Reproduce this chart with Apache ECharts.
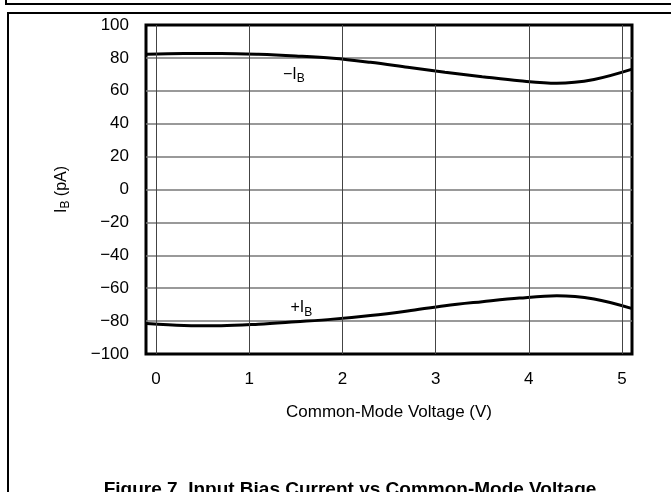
<!DOCTYPE html>
<html lang="en">
<head>
    <meta charset="UTF-8">
    <title>Input Bias Current vs Common-Mode Voltage</title>
    <script src="https://cdn.jsdelivr.net/npm/echarts@6/dist/echarts.min.js"></script>
    <style>
        html, body { margin: 0; padding: 0; background: #fff; }
        #chart { width: 671px; height: 492px; }
    </style>
</head>
<body>
    <div id="chart"></div>
    <script>
        // values
        var voltage = [-0.1, 0.3, 0.7, 1.1, 1.5, 1.9, 2.3, 2.7, 3.1, 3.5, 3.9, 4.3, 4.7, 5.1];
        var minusIb = [82.2, 82.7, 82.7, 82.2, 81.2, 79.8, 77.3, 74.3, 71.3, 68.6, 66.1, 64.6, 66.9, 73];
        var plusIb = [-81.4, -82.6, -82.8, -81.9, -80.4, -78.8, -76.6, -73.8, -70.6, -68.2, -66, -64.6, -66.6, -72.3];
        var xTicks = [0, 1, 2, 3, 4, 5];

        var font = 'Liberation Sans, Arial, sans-serif';
        function pair(xs, ys) {
            var out = [];
            for (var i = 0; i < xs.length; i++) out.push([xs[i], ys[i]]);
            return out;
        }
        function minus(v) {
            return String(v).replace('-', '\u2212');
        }
        var sub = { fontSize: 12, fontFamily: font, color: '#000', padding: [9, 0, 0, 0] };
        var main = { fontFamily: font, fontSize: 16, color: '#000' };

        var chart = echarts.init(document.getElementById('chart'));
        var option = {
            animation: false,
            backgroundColor: '#fff',
            grid: {
                left: 146, right: 39, top: 25, bottom: 138,
                show: true, borderColor: '#000', borderWidth: 3, backgroundColor: 'transparent'
            },
            title: {
                text: 'Figure 7. Input Bias Current vs Common-Mode Voltage',
                left: 345, textAlign: 'center', top: 475,
                textStyle: { fontFamily: font, fontSize: 19, fontWeight: 'bold', color: '#000' }
            },
            graphic: [
                { type: 'polyline', shape: { points: [[6, 0], [6, 4], [671, 4]] }, style: { stroke: '#000', lineWidth: 2, fill: null } },
                { type: 'rect', shape: { x: 8, y: 13, width: 700, height: 520 }, style: { stroke: '#000', lineWidth: 2, fill: null }, z: -1 }
            ],
            xAxis: {
                type: 'value', min: -0.107, max: 5.107,
                name: 'Common-Mode Voltage (V)', nameLocation: 'middle', nameGap: 50,
                nameTextStyle: { fontFamily: font, fontSize: 17, color: '#000' },
                axisLine: { show: false }, axisTick: { show: false },
                splitLine: { show: false },
                axisLabel: { customValues: xTicks, margin: 17, fontFamily: font, fontSize: 17, color: '#000' }
            },
            yAxis: {
                type: 'value', min: -100, max: 100, interval: 20,
                name: '{m|I}{s|B}{m| (pA)}', nameLocation: 'middle', nameGap: 74, nameRotate: 90,
                nameTextStyle: { rich: { m: main, s: sub } },
                axisLine: { show: false }, axisTick: { show: false },
                splitLine: { showMinLine: false, showMaxLine: false, lineStyle: { color: '#777', width: 1.5 } },
                axisLabel: { margin: 17, fontFamily: font, fontSize: 17, color: '#000', formatter: minus }
            },
            series: [
                {
                    name: '-IB', type: 'line', smooth: 0.35, symbol: 'none',
                    data: pair(voltage, minusIb),
                    lineStyle: { color: '#000', width: 3 },
                    markLine: {
                        silent: true, symbol: 'none', label: { show: false },
                        lineStyle: { color: '#444', width: 1, type: 'solid' },
                        data: xTicks.map(function (v) { return { xAxis: v }; })
                    },
                    markPoint: {
                        symbol: 'circle', symbolSize: 0,
                        label: { show: true, formatter: '{m|\u2212I}{s|B}', rich: { m: main, s: sub } },
                        data: [{ coord: [1.48, 69.8] }]
                    },
                    z: 3
                },
                {
                    name: '+IB', type: 'line', smooth: 0.35, symbol: 'none',
                    data: pair(voltage, plusIb),
                    lineStyle: { color: '#000', width: 3 },
                    markPoint: {
                        symbol: 'circle', symbolSize: 0,
                        label: { show: true, formatter: '{m|+I}{s|B}', rich: { m: main, s: sub } },
                        data: [{ coord: [1.56, -72] }]
                    },
                    z: 3
                }
            ]
        };
        chart.setOption(option);
    </script>
</body>
</html>
